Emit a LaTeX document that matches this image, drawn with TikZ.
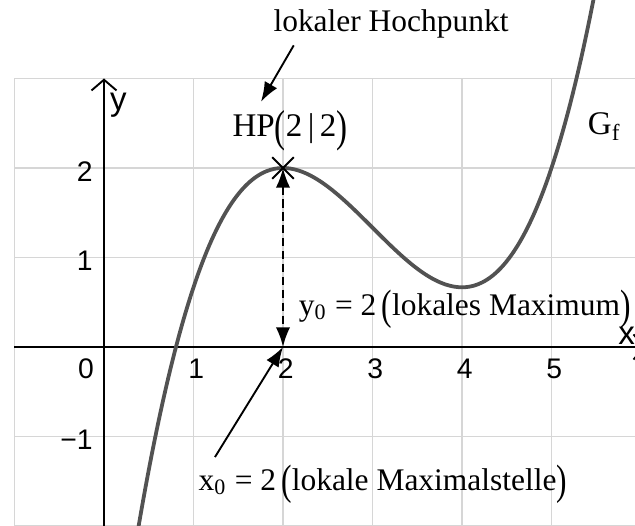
\documentclass[tikz,border=0pt]{standalone}
\usepackage{fontspec}
\setmainfont{Liberation Serif}
\setsansfont{Liberation Sans}
\usetikzlibrary{arrows.meta, positioning, calc, shapes.misc}

\newcommand{\bigparen}[1]{\raisebox{-0.3ex}{\scalebox{1}[1.35]{#1}}}

\begin{document}
\begin{tikzpicture}[x=1cm, y=1cm,
    gridline/.style={draw=black!16, line width=0.4pt},
    axisline/.style={line width=0.6pt, -{Straight Barb[length=1.2mm, width=2.8mm]}},
    graph/.style={draw=black!68, line width=1.2pt},
    pointer/.style={line width=0.6pt, -{Latex[length=2.2mm, width=1.6mm]}},
    ticklabel/.style={font=\sffamily\fontsize{9}{9}\selectfont, inner sep=0pt},
    notetext/.style={font=\fontsize{10}{12}\selectfont, inner sep=0pt}
]
    \useasboundingbox (-1.162,-2.0) rectangle (5.933,3.877);
    \clip (-1.162,-2.0) rectangle (5.933,3.877);

    % Grid
    \foreach \x in {-1,...,5} {
        \draw[gridline] (\x,-2.1) -- (\x,3);
    }
    \foreach \y in {-2,...,3} {
        \draw[gridline] (-1,\y) -- (6.1,\y);
    }

    % Axes
    \coordinate (xstart) at (-1,0);
    \coordinate (xend) at (6.05,0);
    \coordinate (ystart) at (0,-2.1);
    \coordinate (yend) at (0,3);
    \draw[axisline] (xstart) -- (xend);
    \draw[axisline] (ystart) -- (yend);
    \node[ticklabel, font=\sffamily\fontsize{10.5}{10}\selectfont] (xname) at (5.84,0.13) {x};
    \node[ticklabel, font=\sffamily\fontsize{10.5}{10}\selectfont] (yname) at (0.16,2.7) {y};

    % Tick labels
    \node[ticklabel] (tick0) at (-0.2,-0.24) {0};
    \foreach \x in {1,...,5} {
        \node[ticklabel] (tickx\x) at (\x+0.03,-0.24) {\x};
    }
    \foreach \y in {1,2} {
        \node[ticklabel, anchor=east] (ticky\y) at (-0.12,\y-0.04) {\y};
    }
    \node[ticklabel, anchor=east] (tickym1) at (-0.12,-1.04) {−1};

    % The graph
    \draw[graph] plot[domain=0.3:5.6, samples=120, smooth] (\x, {\x^3/3 - 3*\x^2 + 8*\x - 14/3});
    \node[notetext, anchor=base west, font=\fontsize{10.5}{12}\selectfont] (gflab) at (5.40,2.37) {G\textsubscript{f}};

    % High point
    \coordinate (hp) at (2,2);
    \coordinate (xnull) at (2,0);
    \node[draw, cross out, minimum size=2.2mm, inner sep=0pt, line width=0.6pt] (hpmark) at (hp) {};
    \draw[dashed, dash pattern=on 2.6pt off 1.5pt, line width=0.7pt,
          {Latex[length=2.2mm, width=1.6mm]}-{Latex[length=2.2mm, width=1.6mm]}] (hp) -- (xnull);

    % Labels
    \node[notetext, anchor=base] (hochlab) at (3.207,3.52) {lokaler Hochpunkt};
    \node[notetext, anchor=base west, font=\fontsize{10.5}{12}\selectfont] (hplab) at (1.43,2.35) {HP\bigparen{(}2\,|\,2\bigparen{)}};
    \coordinate (hochfoot) at (2.12,3.37);
    \coordinate (hptip) at (1.754,2.74);
    \draw[pointer] (hochfoot) -- (hptip);

    \node[notetext, anchor=base west] (ylab) at (2.17,0.357) {y\textsubscript{0} = 2\,\bigparen{(}lokales Maximum\bigparen{)}};

    \node[notetext, anchor=base west] (xlab) at (1.05,-1.60) {x\textsubscript{0} = 2\,\bigparen{(}lokale Maximalstelle\bigparen{)}};
    \coordinate (xfoot) at (1.24,-1.23);
    \draw[pointer] (xfoot) -- (xnull);
\end{tikzpicture}
\end{document}
